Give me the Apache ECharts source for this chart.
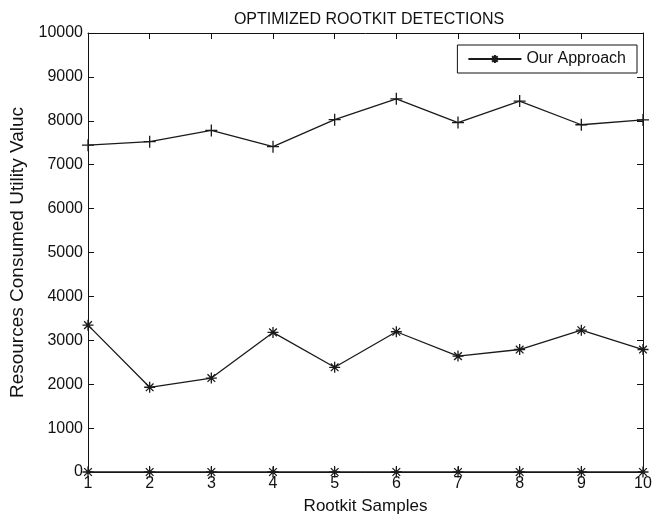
<!DOCTYPE html>
<html>
<head>
<meta charset="utf-8">
<script src="https://cdn.jsdelivr.net/npm/echarts@6/dist/echarts.min.js"></script>
<style>
  html, body { margin: 0; padding: 0; background: #fff; }
  #chart { width: 657px; height: 520px; }
</style>
</head>
<body>
<div id="chart"></div>
<script>
var samples = [1, 2, 3, 4, 5, 6, 7, 8, 9, 10];
var upperValues = [7445, 7525, 7780, 7410, 8025, 8500, 7960, 8450, 7910, 8020];
var lowerValues = [3345, 1930, 2140, 3180, 2385, 3195, 2640, 2790, 3230, 2790];
var zeroValues = [0, 0, 0, 0, 0, 0, 0, 0, 0, 0];

var plusPath = 'path://M0,5L10,5M5,0L5,10';
var starPath = 'path://M0,5L10,5M5,0L5,10M1.5,1.5L8.5,8.5M1.5,8.5L8.5,1.5';

function pairs(vals) {
    return samples.map(function (s, i) { return [s, vals[i]]; });
}

var myChart = echarts.init(document.getElementById('chart'));

var font = 'Liberation Sans, Arial, sans-serif';
var ink = '#111';

function lineSeries(name, vals, symbol, size) {
    return {
        name: name,
        type: 'line',
        data: pairs(vals),
        symbol: symbol,
        symbolSize: size,
        clip: false,
        lineStyle: { color: '#1a1a1a', width: 1.3 },
        itemStyle: { color: 'none', borderColor: '#1a1a1a', borderWidth: 1.3 },
        emphasis: { disabled: true }
    };
}

var tickStyle = { inside: true, length: 6, lineStyle: { color: ink } };

myChart.setOption({
    backgroundColor: '#fff',
    animation: false,
    title: {
        text: 'OPTIMIZED ROOTKIT DETECTIONS',
        left: 364,
        top: 7,
        textAlign: 'center',
        textStyle: { fontFamily: font, fontSize: 16, fontWeight: 'normal', color: ink }
    },
    legend: {
        data: ['Our Approach'],
        right: 20,
        top: 45,
        backgroundColor: '#fff',
        borderColor: ink,
        borderWidth: 1,
        borderRadius: 0,
        padding: [6, 11, 6, 10],
        itemWidth: 53,
        itemHeight: 10,
        textStyle: { fontFamily: font, fontSize: 16, color: ink },
        selectedMode: false
    },
    grid: { left: 88, right: 14, top: 33, bottom: 47 },
    xAxis: [{
        type: 'value',
        min: 1,
        max: 10,
        interval: 1,
        name: 'Rootkit Samples',
        nameLocation: 'middle',
        nameGap: 26,
        nameTextStyle: { fontFamily: font, fontSize: 17, color: ink },
        axisLine: { onZero: false, lineStyle: { color: ink, width: 1 } },
        axisTick: tickStyle,
        axisLabel: { fontFamily: font, fontSize: 16, color: ink, margin: 4 },
        splitLine: { show: false }
    }, {
        type: 'value',
        position: 'top',
        min: 1,
        max: 10,
        interval: 1,
        axisLine: { onZero: false, lineStyle: { color: ink, width: 1 } },
        axisTick: tickStyle,
        axisLabel: { show: false },
        splitLine: { show: false }
    }],
    yAxis: [{
        type: 'value',
        min: 0,
        max: 10000,
        interval: 1000,
        name: 'Resources Consumed Utility Valuc',
        nameLocation: 'middle',
        nameGap: 61,
        nameTextStyle: { fontFamily: font, fontSize: 19, color: ink },
        axisLine: { show: true, onZero: false, lineStyle: { color: ink, width: 1 } },
        axisTick: { show: true, inside: true, length: 6, lineStyle: { color: ink } },
        axisLabel: {
            fontFamily: font, fontSize: 16, color: ink, margin: 5,
            formatter: function (v) { return String(v); }
        },
        splitLine: { show: false }
    }, {
        type: 'value',
        position: 'right',
        min: 0,
        max: 10000,
        interval: 1000,
        axisLine: { show: true, onZero: false, lineStyle: { color: ink, width: 1 } },
        axisTick: { show: true, inside: true, length: 6, lineStyle: { color: ink } },
        axisLabel: { show: false },
        splitLine: { show: false }
    }],
    series: [
        lineSeries('upper', upperValues, plusPath, 12),
        lineSeries('Our Approach', lowerValues, starPath, 11),
        lineSeries('zero', zeroValues, starPath, 11)
    ]
});
</script>
</body>
</html>
